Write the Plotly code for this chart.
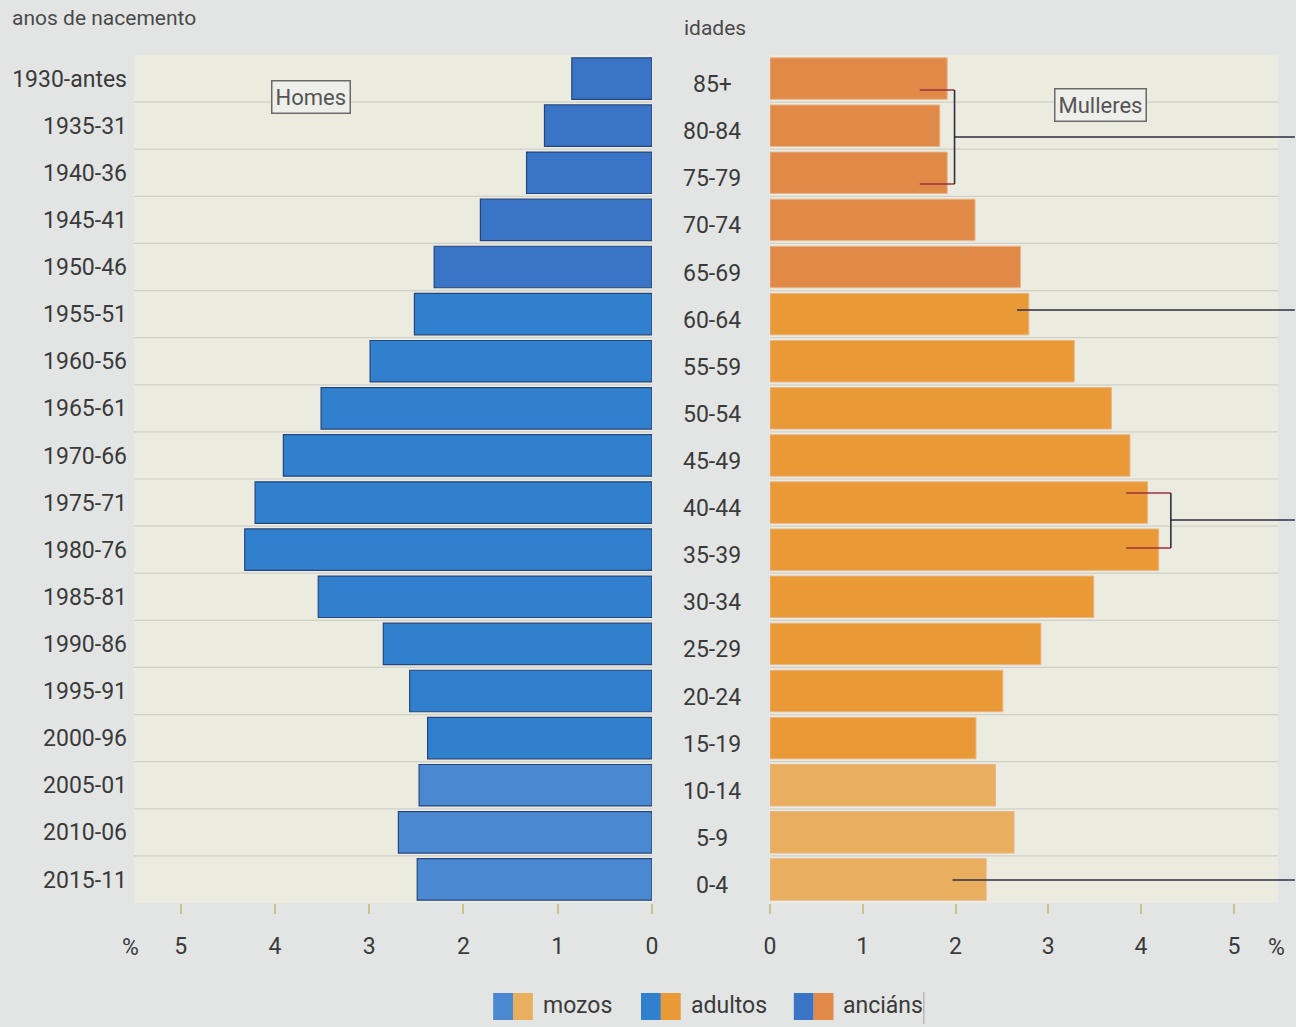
import plotly.graph_objects as go

ages = ["85+", "80-84", "75-79", "70-74", "65-69", "60-64", "55-59", "50-54", "45-49",
        "40-44", "35-39", "30-34", "25-29", "20-24", "15-19", "10-14", "5-9", "0-4"]
birth_years = ["1930-antes", "1935-31", "1940-36", "1945-41", "1950-46", "1955-51", "1960-56",
               "1965-61", "1970-66", "1975-71", "1980-76", "1985-81", "1990-86", "1995-91",
               "2000-96", "2005-01", "2010-06", "2015-11"]
homes = [0.85, 1.14, 1.33, 1.82, 2.31, 2.52, 2.99, 3.51, 3.91, 4.21, 4.32, 3.54, 2.85, 2.57,
         2.38, 2.47, 2.69, 2.49]
mulleres = [1.91, 1.83, 1.91, 2.21, 2.70, 2.79, 3.28, 3.68, 3.88, 4.07, 4.19, 3.49, 2.92, 2.51,
            2.22, 2.43, 2.63, 2.33]
groups = ["ancians"] * 5 + ["adultos"] * 10 + ["mozos"] * 3
x_ticks = [0, 1, 2, 3, 4, 5]
legend_labels = ["mozos", "adultos", "anciáns"]

blue = {"mozos": "#4A88D2", "adultos": "#3180CD", "ancians": "#3A74C6"}
orange = {"mozos": "#E9AE5E", "adultos": "#E99A36", "ancians": "#E18947"}

W, H = 1296, 1027
ML, MR, MT, MB = 130, 13, 55, 124
PW, PH = W - ML - MR, H - MT - MB


def px(x):
    return (x - ML) / PW


def py(y):
    return (H - MB - y) / PH


FONT = "Roboto, sans-serif"
TXT = "#3a3a3a"

fig = go.Figure()
fig.add_trace(go.Bar(
    y=ages, x=homes, orientation="h", xaxis="x", yaxis="y",
    marker=dict(color=[blue[g] for g in groups], line=dict(color="#24457f", width=1.2)),
    width=0.88, showlegend=False, hoverinfo="x+y"))
fig.add_trace(go.Bar(
    y=ages, x=mulleres, orientation="h", xaxis="x2", yaxis="y2",
    marker=dict(color=[orange[g] for g in groups], line=dict(color="#e8b48a", width=1)),
    width=0.88, showlegend=False, hoverinfo="x+y"))

left_end = px(652)
right_start = px(771)
LMAX = (652 - ML) / 95.0
RMAX = (W - MR - 771) / 93.5

axis_common = dict(
    tickvals=x_ticks, ticktext=[str(t) for t in x_ticks], showgrid=False, zeroline=False,
    showline=False, ticks="outside", ticklen=10, tickcolor="#c9c28a", tickwidth=1.5,
    tickfont=dict(family=FONT, size=23, color=TXT), ticklabelstandoff=12,
    fixedrange=True)

fig.update_layout(
    width=W, height=H,
    margin=dict(l=ML, r=MR, t=MT, b=MB),
    paper_bgcolor="#e3e5e4",
    plot_bgcolor="#ecebe0",
    bargap=0.1,
    xaxis=dict(domain=[0, left_end], range=[LMAX, 0], **axis_common),
    xaxis2=dict(domain=[right_start, 1], range=[0, RMAX], **axis_common),
    yaxis=dict(anchor="x", type="category", categoryarray=ages, autorange="reversed",
               tickvals=ages, ticktext=birth_years, showgrid=False, zeroline=False,
               ticks="", tickfont=dict(family=FONT, size=23, color=TXT),
               ticklabelstandoff=6, fixedrange=True),
    yaxis2=dict(anchor="x2", type="category", categoryarray=ages, autorange="reversed",
                showticklabels=False, showgrid=False, zeroline=False, ticks="",
                fixedrange=True),
)

# horizontal separators between categories
for i in range(len(ages) - 1):
    for xr, yr, x0, x1 in (("x", "y", LMAX, 0), ("x2", "y2", 0, RMAX)):
        fig.add_shape(type="line", xref=xr, yref=yr, x0=x0, x1=x1, y0=i + 0.5, y1=i + 0.5,
                      line=dict(color="#cfd0c8", width=1.2), layer="below")

# middle age labels
for i, a in enumerate(ages):
    fig.add_annotation(x=px(713), xref="paper", y=a, yref="y", yshift=-6,
                       text=a, showarrow=False, font=dict(family=FONT, size=23, color=TXT),
                       xanchor="center", yanchor="middle")

# titles
fig.add_annotation(x=px(5), y=py(18), xref="paper", yref="paper", text="anos de nacemento",
                   showarrow=False, xanchor="left", yanchor="middle",
                   font=dict(family=FONT, size=21, color="#4a4a4a"))
fig.add_annotation(x=px(716), y=py(28), xref="paper", yref="paper", text="idades",
                   showarrow=False, xanchor="center", yanchor="middle",
                   font=dict(family=FONT, size=21, color="#4a4a4a"))
for xx in (126, 1281):
    fig.add_annotation(x=px(xx), y=py(948), xref="paper", yref="paper", text="%",
                       showarrow=False, xanchor="center", yanchor="middle",
                       font=dict(family=FONT, size=23, color=TXT))

# panel labels
for txt, xx, yy in (("Homes", 308, 97), ("Mulleres", 1104, 105)):
    fig.add_annotation(x=px(xx), y=py(yy), xref="paper", yref="paper", text=txt,
                       showarrow=False, xanchor="center", yanchor="middle",
                       font=dict(family=FONT, size=22, color="#555555"),
                       bgcolor="#eeeeea", bordercolor="#6a6a6a", borderwidth=1.5, borderpad=3)

# pointer lines on the right
LC = "#2e2e40"


def seg(x0, y0, x1, y1, color=LC):
    fig.add_shape(type="line", xref="paper", yref="paper", x0=px(x0), y0=py(y0),
                  x1=px(x1), y1=py(y1), line=dict(color=color, width=1.6))


seg(922, 90, 957, 90, "#9a3040"); seg(922, 184, 957, 184, "#9a3040")
seg(957, 90, 957, 184); seg(957, 137, 1300, 137)
seg(1020, 310, 1300, 310)
seg(1130, 493, 1175, 493, "#9a3040"); seg(1130, 548, 1175, 548, "#9a3040")
seg(1175, 493, 1175, 548); seg(1175, 520, 1300, 520)
seg(955, 880, 1300, 880)

# legend
leg_x = [492, 641, 795]
keys = ["mozos", "adultos", "ancians"]
for lx, k, lab in zip(leg_x, keys, legend_labels):
    fig.add_shape(type="rect", xref="paper", yref="paper", x0=px(lx), x1=px(lx + 20),
                  y0=py(1020), y1=py(993), fillcolor=blue[k], line=dict(width=0))
    fig.add_shape(type="rect", xref="paper", yref="paper", x0=px(lx + 20), x1=px(lx + 40),
                  y0=py(1020), y1=py(993), fillcolor=orange[k], line=dict(width=0))
    fig.add_annotation(x=px(lx + 48), y=py(1006), xref="paper", yref="paper", text=lab,
                       showarrow=False, xanchor="left", yanchor="middle",
                       font=dict(family=FONT, size=23, color=TXT))
# faint legend frame edge
fig.add_shape(type="line", xref="paper", yref="paper", x0=px(926), x1=px(926),
              y0=py(992), y1=py(1024), line=dict(color="#b8b8b8", width=1.5))

fig.write_html("out.html", config={"displayModeBar": False},
               post_script="document.body.style.margin='0';document.body.style.overflow='hidden';")
